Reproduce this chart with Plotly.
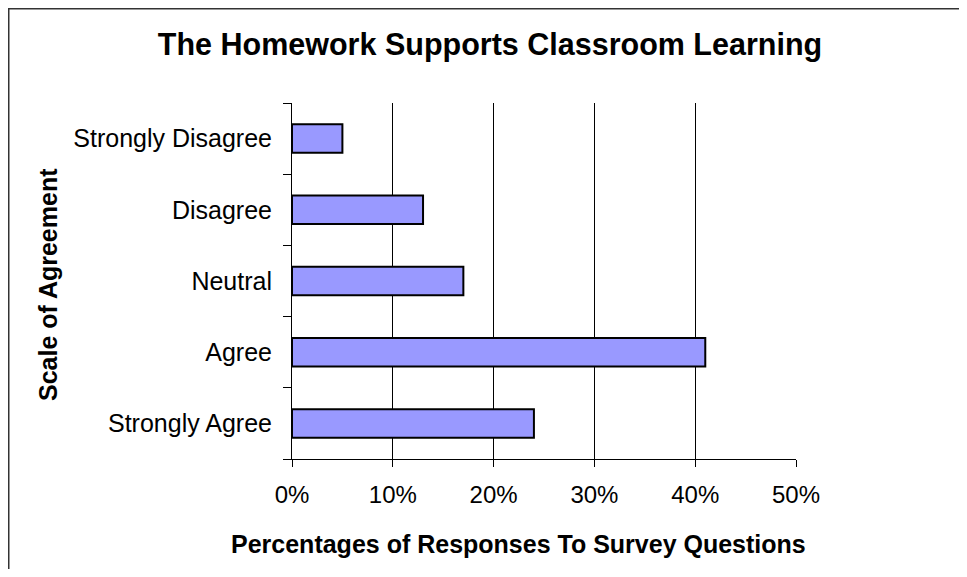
import plotly.graph_objects as go

categories = ["Strongly Agree", "Agree", "Neutral", "Disagree", "Strongly Disagree"]
percentages = [24, 41, 17, 13, 5]
x_ticks = [0, 10, 20, 30, 40, 50]
x_tick_labels = ["0%", "10%", "20%", "30%", "40%", "50%"]

title_text = "The Homework Supports Classroom Learning"
x_title = "Percentages of Responses To Survey Questions"
y_title = "Scale of Agreement"

FONT = "Arial, 'Liberation Sans', Helvetica, sans-serif"

# page body has an 8px margin; work in page pixels and convert
OFF = 8
W, H = 967 - 2 * OFF, 577 - 2 * OFF
PL, PR, PT, PB = 292, 796, 103, 459  # plot area in page pixels
L, R, T, B = PL - OFF, W - (PR - OFF), PT - OFF, H - (PB - OFF)


def px_x(p):
    return (p - PL) / (PR - PL)


def px_y(p):
    return (PB - p) / (PB - PT)


fig = go.Figure(
    go.Bar(
        x=percentages,
        y=categories,
        orientation="h",
        marker=dict(color="#9999FF", line=dict(color="black", width=2)),
        hoverinfo="x+y",
    )
)

fig.update_layout(
    width=W,
    height=H,
    margin=dict(l=L, r=R, t=T, b=B, pad=0),
    paper_bgcolor="white",
    plot_bgcolor="white",
    bargap=0.6,
    showlegend=False,
    font=dict(family=FONT, color="black", size=24),
    title=dict(
        text="<b>" + title_text + "</b>",
        x=(490 - OFF) / W,
        xanchor="center",
        xref="container",
        y=1 - (44 - OFF) / H,
        yanchor="middle",
        font=dict(size=30.5, family=FONT, color="black"),
    ),
    xaxis=dict(
        range=[0, 50],
        tickvals=x_ticks,
        ticktext=x_tick_labels,
        showgrid=True,
        gridcolor="black",
        gridwidth=1,
        zeroline=False,
        showline=True,
        linecolor="black",
        linewidth=1,
        ticks="outside",
        ticklen=7,
        tickcolor="black",
        tickfont=dict(size=24),
        ticklabelstandoff=7,
        fixedrange=True,
    ),
    yaxis=dict(
        type="category",
        categoryorder="array",
        categoryarray=categories,
        tickson="boundaries",
        ticks="outside",
        ticklen=8,
        tickcolor="black",
        showline=True,
        linecolor="black",
        linewidth=1,
        showgrid=False,
        zeroline=False,
        tickfont=dict(size=25),
        ticklabelstandoff=14,
        fixedrange=True,
    ),
    annotations=[
        dict(
            text="<b>" + x_title + "</b>",
            xref="paper", yref="paper",
            x=px_x(518), y=px_y(544),
            xanchor="center", yanchor="middle",
            showarrow=False,
            font=dict(size=25, family=FONT, color="black"),
        ),
        dict(
            text="<b>" + y_title + "</b>",
            xref="paper", yref="paper",
            x=px_x(48), y=px_y(285),
            xanchor="center", yanchor="middle",
            textangle=-90,
            showarrow=False,
            font=dict(size=25, family=FONT, color="black"),
        ),
    ],
    shapes=[
        # chart-area frame: top and left edges
        dict(type="line", xref="paper", yref="paper",
             x0=px_x(OFF), x1=px_x(OFF + W),
             y0=px_y(OFF + 0.75), y1=px_y(OFF + 0.75),
             line=dict(color="#333333", width=1.5)),
        dict(type="line", xref="paper", yref="paper",
             x0=px_x(OFF + 0.75), x1=px_x(OFF + 0.75),
             y0=px_y(OFF), y1=px_y(OFF + H),
             line=dict(color="#333333", width=1.5)),
    ],
)

fig.write_html("out.html")
